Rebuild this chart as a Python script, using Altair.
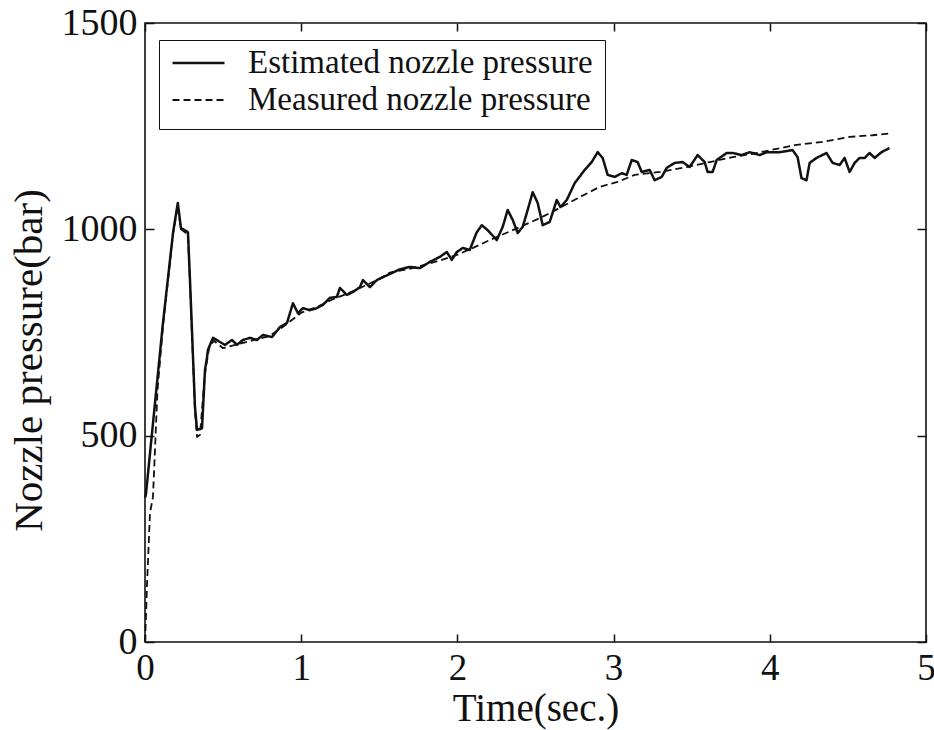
import altair as alt
import pandas as pd

# ---------------- data ----------------
series_names = ["Estimated nozzle pressure", "Measured nozzle pressure"]

est_time = [0.0, 0.006, 0.115, 0.18, 0.21, 0.23, 0.275, 0.288, 0.32, 0.333,
            0.365, 0.384, 0.397, 0.403, 0.435, 0.48, 0.512, 0.557, 0.589, 0.627,
            0.672, 0.717, 0.755, 0.813, 0.864, 0.909, 0.947, 0.979, 1.011, 1.056,
            1.100, 1.139, 1.184, 1.228, 1.248, 1.292, 1.331, 1.376, 1.395, 1.44,
            1.484, 1.523, 1.58, 1.63, 1.695, 1.759, 1.823, 1.887, 1.932, 1.964,
            1.996, 2.035, 2.079, 2.124, 2.156, 2.194, 2.252, 2.29, 2.322, 2.354,
            2.386, 2.418, 2.45, 2.482, 2.514, 2.546, 2.591, 2.636, 2.66, 2.70,
            2.751, 2.815, 2.86, 2.898, 2.93, 2.962, 3.007, 3.052, 3.084, 3.116,
            3.154, 3.18, 3.231, 3.263, 3.308, 3.34, 3.391, 3.442, 3.487, 3.538,
            3.583, 3.602, 3.634, 3.66, 3.724, 3.762, 3.82, 3.871, 3.935, 3.98,
            4.063, 4.146, 4.178, 4.203, 4.235, 4.255, 4.299, 4.363, 4.402, 4.447,
            4.479, 4.511, 4.543, 4.575, 4.607, 4.639, 4.671, 4.715, 4.766]
est_pressure = [350, 358, 773, 993, 1064, 1003, 993, 877, 569, 514,
                518, 659, 690, 708, 737, 727, 720, 732, 720, 732,
                737, 732, 744, 739, 763, 773, 821, 797, 809, 804,
                809, 817, 834, 836, 858, 841, 848, 860, 877, 860,
                877, 884, 894, 903, 909, 906, 921, 933, 945, 926,
                945, 955, 950, 993, 1010, 998, 974, 1006, 1047, 1023,
                991, 1006, 1047, 1090, 1064, 1010, 1018, 1071, 1054, 1071,
                1112, 1144, 1163, 1187, 1173, 1132, 1127, 1136, 1132, 1168,
                1163, 1139, 1144, 1119, 1127, 1149, 1161, 1163, 1151, 1180,
                1163, 1139, 1139, 1168, 1185, 1185, 1180, 1187, 1180, 1187,
                1187, 1192, 1175, 1124, 1119, 1161, 1173, 1185, 1161, 1156,
                1173, 1139, 1161, 1173, 1173, 1185, 1173, 1187, 1197]

meas_time = [0.0, 0.006, 0.013, 0.032, 0.051, 0.08, 0.115, 0.18, 0.21, 0.23,
             0.275, 0.288, 0.32, 0.333, 0.352, 0.384, 0.41, 0.44, 0.5, 0.6,
             0.7, 0.8, 0.9, 1.0, 1.1, 1.2, 1.3, 1.4, 1.5, 1.567,
             1.7, 1.8, 1.9, 1.996, 2.1, 2.207, 2.354, 2.527, 2.655, 2.783,
             2.911, 3.026, 3.135, 3.295, 3.468, 3.615, 3.762, 3.916, 4.159, 4.338,
             4.511, 4.658, 4.779]
meas_pressure = [0, 60, 140, 313, 351, 610, 765, 990, 1058, 1000,
                 988, 870, 560, 497, 502, 650, 712, 730, 712, 722,
                 732, 742, 768, 798, 812, 830, 845, 862, 880, 895,
                 905, 915, 926, 938, 955, 974, 998, 1027, 1052, 1078,
                 1103, 1115, 1132, 1139, 1151, 1163, 1175, 1185, 1204, 1212,
                 1224, 1228, 1233]

x_ticks = [0, 1, 2, 3, 4, 5]
y_ticks = [0, 500, 1000, 1500]
x_title = "Time(sec.)"
y_title = "Nozzle pressure(bar)"

df = pd.concat([
    pd.DataFrame({"t": est_time, "p": est_pressure, "series": series_names[0]}),
    pd.DataFrame({"t": meas_time, "p": meas_pressure, "series": series_names[1]}),
], ignore_index=True)

FONT = "Liberation Serif"
INK = "#111111"

xscale = alt.Scale(domain=[0, 5], nice=False, zero=False)
yscale = alt.Scale(domain=[0, 1500], nice=False)

base = alt.Chart(df)

lines = base.mark_line(strokeJoin="round", color=INK).encode(
    x=alt.X("t:Q", scale=xscale,
            axis=alt.Axis(orient="bottom", values=x_ticks, title=x_title,
                          format="d", ticks=False, domain=False, grid=False,
                          labelFlush=False, labelPadding=8, labelFontSize=37,
                          titleFontSize=39, titleY=78,
                          titleBaseline="alphabetic")),
    y=alt.Y("p:Q", scale=yscale,
            axis=alt.Axis(orient="left", values=y_ticks, title=y_title,
                          format="d", ticks=False, domain=False, grid=False,
                          labelFlush=False, labelPadding=8, labelFontSize=38,
                          titleFontSize=41, titleX=-116, titleY=337,
                          titleBaseline="middle", titleAlign="center",
                          titleAngle=270)),
    strokeDash=alt.StrokeDash(
        "series:N",
        scale=alt.Scale(domain=series_names, range=[[1, 0], [7, 4]]),
        legend=alt.Legend(
            title=None, orient="none", legendX=14, legendY=17,
            symbolType="stroke", symbolSize=2704, symbolStrokeWidth=2,
            symbolStrokeColor=INK, clipHeight=22, padding=12, rowPadding=4,
            symbolOffset=0, labelOffset=22, labelFont=FONT, labelFontSize=33,
            labelColor=INK, labelLimit=0, strokeColor=INK, fillColor="white",
        ),
    ),
    strokeWidth=alt.StrokeWidth(
        "series:N",
        scale=alt.Scale(domain=series_names, range=[2.5, 1.8]),
        legend=None,
    ),
)

ticks_bl = base.mark_point(opacity=0).encode(
    x=alt.X("t:Q", scale=xscale,
            axis=alt.Axis(orient="bottom", values=x_ticks, title=None,
                          labels=False, domain=False, grid=False,
                          tickSize=8, offset=-8, tickColor=INK, tickWidth=1.5)),
    y=alt.Y("p:Q", scale=yscale,
            axis=alt.Axis(orient="left", values=y_ticks, title=None,
                          labels=False, domain=False, grid=False,
                          tickSize=9, offset=-9, tickColor=INK, tickWidth=1.5)),
)

ticks_tr = base.mark_point(opacity=0).encode(
    x=alt.X("t:Q", scale=xscale,
            axis=alt.Axis(orient="top", values=x_ticks, title=None,
                          labels=False, domain=False, grid=False,
                          tickSize=8, offset=-8, tickColor=INK, tickWidth=1.5)),
    y=alt.Y("p:Q", scale=yscale,
            axis=alt.Axis(orient="right", values=y_ticks, title=None,
                          labels=False, domain=False, grid=False,
                          tickSize=9, offset=-9, tickColor=INK, tickWidth=1.5)),
)

chart = (
    alt.layer(lines, ticks_bl, ticks_tr)
    .resolve_axis(x="independent", y="independent")
    .properties(
        width=781, height=619,
        padding={"left": 145, "top": 23, "right": 8, "bottom": 88},
        autosize=alt.AutoSizeParams(type="none"),
        background="white",
    )
    .configure_view(stroke=INK, strokeWidth=1.6)
    .configure_axis(labelFont=FONT, titleFont=FONT, labelColor=INK,
                    titleColor=INK, titleFontWeight="normal")
)

chart.save("out.html", embed_options={"renderer": "svg", "actions": False})
